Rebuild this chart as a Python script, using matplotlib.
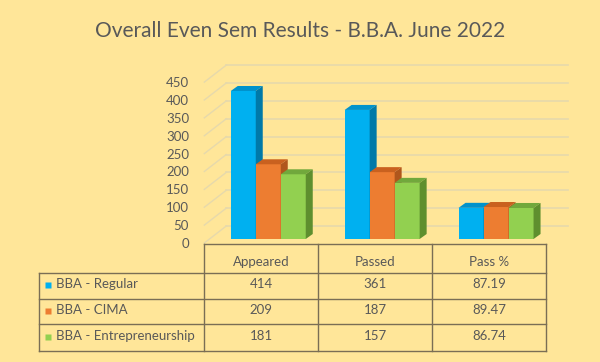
import matplotlib.pyplot as plt
from matplotlib.patches import Polygon

# datos
categorias = ['Appeared', 'Passed', 'Pass %']
series = ['BBA - Regular', 'BBA - CIMA', 'BBA - Entrepreneurship']
regular = [414, 361, 87.19]
cima = [209, 187, 89.47]
entre = [181, 157, 86.74]
etiquetas_tabla = [['414', '361', '87.19'],
                   ['209', '187', '89.47'],
                   ['181', '157', '86.74']]
yticks = [0, 50, 100, 150, 200, 250, 300, 350, 400, 450]

titulo = 'Overall Even Sem Results - B.B.A. June 2022'

# estilo
plt.rcParams['font.family'] = ['Lato', 'DejaVu Sans']
fondo = '#FFE699'
gris = '#595959'
frente = ['#00B0F0', '#ED7D31', '#92D050']
lado = ['#0079A8', '#B0561C', '#5E8F2E']
tapa = ['#0092CC', '#C9611F', '#71A83C']
grid_col = '#E6D9AC'

W, H = 600, 362
XS = 113.9    # px por categoria
YS = 0.3575   # px por unidad

fig = plt.figure(figsize=(6, 3.62), dpi=100, facecolor=fondo)

# ejes del grafico (plano frontal del piso)
top_px = 55
ax = fig.add_axes([204.3 / W, (H - 243) / H, 341.7 / W, (243 - top_px) / H])
ax.set_xlim(-0.5, 2.5)
ax.set_ylim(0, (243 - top_px) / YS)
ax.set_facecolor('none')
for s in ax.spines.values():
    s.set_visible(False)
ax.set_xticks([])
ax.set_yticks(yticks)
ax.set_yticklabels([str(t) for t in yticks], color=gris, fontsize=9.5)
ax.tick_params(axis='y', length=0, pad=11)

# pared del fondo
bx, by = 22 / XS, 17 / YS
for t in yticks:
    ax.plot([-0.5 + bx, 2.5 + bx], [t + by, t + by], color=grid_col, lw=1.2,
            clip_on=False, zorder=1)
    ax.plot([-0.5, -0.5 + bx], [t, t + by], color=grid_col, lw=1.0,
            clip_on=False, zorder=1)

# barras 3D
ox, oy = 7 / XS, 4 / YS      # desplazamiento de las barras
dx, dy = 7 / XS, 14          # profundidad de las barras
w = 25 / XS
datos = [regular, cima, entre]
z = 3
for i in range(len(categorias)):
    for k, vals in enumerate(datos):
        xc = i + ox + (k - 1) * w
        v = vals[i]
        x0, x1 = xc - w / 2, xc + w / 2
        y0, y1 = oy, oy + v
        ax.bar(xc, v, w, bottom=oy, color=frente[k], linewidth=0, zorder=z)
        ax.add_patch(Polygon([[x0, y1], [x1, y1], [x1 + dx, y1 + dy], [x0 + dx, y1 + dy]],
                             closed=True, facecolor=tapa[k], lw=0, zorder=z))
        ax.add_patch(Polygon([[x1, y0], [x1 + dx, y0 + dy], [x1 + dx, y1 + dy], [x1, y1]],
                             closed=True, facecolor=lado[k], lw=0, zorder=z))
        z += 1

# tabla de datos
tl = 39
ax2 = fig.add_axes([tl / W, (H - 351) / H, (546 - tl) / W, (351 - 244) / H])
x_izq = -0.5 - (204.3 - tl) / XS
ax2.set_xlim(x_izq, 2.5)
ax2.set_ylim(351, 244)
ax2.axis('off')
lc = '#7A6E55'
lw = 1.0
filas = [244, 272.7, 299.3, 324.3, 351]
ax2.plot([-0.5, 2.5], [filas[0], filas[0]], color=lc, lw=lw, clip_on=False)
for yy in filas[1:]:
    ax2.plot([x_izq, 2.5], [yy, yy], color=lc, lw=lw, clip_on=False)
ax2.plot([x_izq, x_izq], [filas[1], filas[-1]], color=lc, lw=lw, clip_on=False)
for xx in [-0.5, 0.5, 1.5, 2.5]:
    ax2.plot([xx, xx], [filas[0], filas[-1]], color=lc, lw=lw, clip_on=False)

for i, c in enumerate(categorias):
    ax2.text(i, 262.5, c, ha='center', va='center', color=gris, fontsize=9.5)

ytxt = [284.5, 310.5, 336.5]
for k, nombre in enumerate(series):
    ax2.plot(x_izq + 9.5 / XS, ytxt[k] + 1, marker='s', ms=5, color=frente[k],
             mec='none', clip_on=False)
    ax2.text(x_izq + 17.5 / XS, ytxt[k], nombre, ha='left', va='center',
             color=gris, fontsize=9.5)
    for i in range(len(categorias)):
        ax2.text(i, ytxt[k], etiquetas_tabla[k][i], ha='center', va='center',
                 color=gris, fontsize=9.5)

fig.text(0.5, 1 - 31 / H, titulo, ha='center', va='center', color=gris, fontsize=15)

plt.savefig('out.png', dpi=100, facecolor=fondo)
plt.close('all')
